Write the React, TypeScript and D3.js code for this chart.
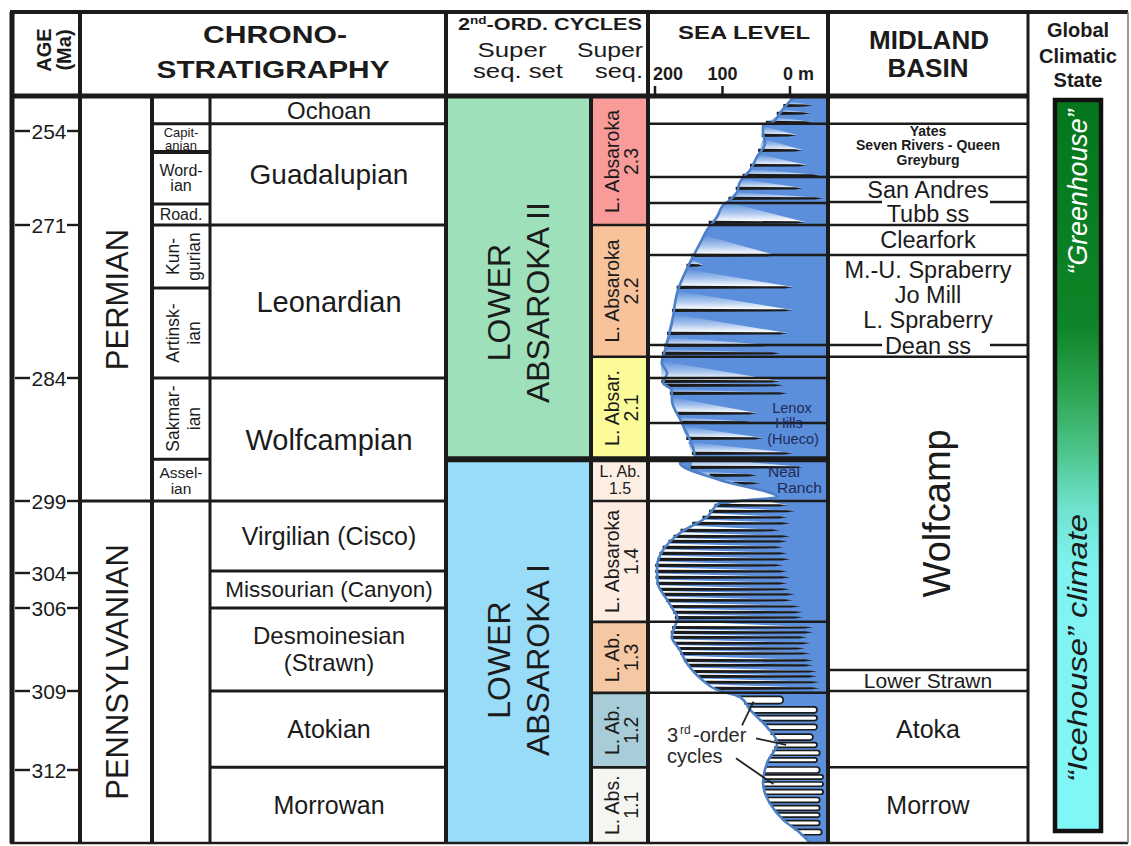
import React from 'react';
import * as d3 from 'd3';

type Unit = { name: string; top: number; base: number };
type Pt = [number, number];

// ---------- Age axis (Ma) ----------
const ageStops = [248, 254, 271, 284, 299, 304, 306, 309, 312, 315];
const ageTicks = [254, 271, 284, 299, 304, 306, 309, 312];

// ---------- Chronostratigraphy ----------
const periods: Unit[] = [
  { name: 'PERMIAN', top: 248, base: 299 },
  { name: 'PENNSYLVANIAN', top: 299, base: 315 },
];

const stages: Unit[] = [
  { name: '', top: 248, base: 252.7 },
  { name: 'Capit-|anian', top: 252.7, base: 257.8 },
  { name: 'Word-|ian', top: 257.8, base: 267.2 },
  { name: 'Road.', top: 267.2, base: 271 },
  { name: 'Kun-|gurian', top: 271, base: 276.35 },
  { name: 'Artinsk-|ian', top: 276.35, base: 284 },
  { name: 'Sakmar-|ian', top: 284, base: 293.9 },
  { name: 'Assel-|ian', top: 293.9, base: 299 },
  { name: '', top: 299, base: 315 },
];

const series: Unit[] = [
  { name: 'Ochoan', top: 248, base: 252.7 },
  { name: 'Guadalupian', top: 252.7, base: 271 },
  { name: 'Leonardian', top: 271, base: 284 },
  { name: 'Wolfcampian', top: 284, base: 299 },
  { name: 'Virgilian (Cisco)', top: 299, base: 303.86 },
  { name: 'Missourian (Canyon)', top: 303.86, base: 306 },
  { name: 'Desmoinesian|(Strawn)', top: 306, base: 309 },
  { name: 'Atokian', top: 309, base: 311.9 },
  { name: 'Morrowan', top: 311.9, base: 315 },
];

// ---------- 2nd-order cycles ----------
const superSeqSets: Unit[] = [
  { name: 'LOWER|ABSAROKA II', top: 248, base: 293.9 },
  { name: 'LOWER|ABSAROKA I', top: 293.9, base: 315 },
];
const superSeqSetColors = ['#9de0b9', '#99dcf7'];

const superSeqs: Unit[] = [
  { name: 'L. Absaroka|2.3', top: 248, base: 271 },
  { name: 'L. Absaroka|2.2', top: 271, base: 282.2 },
  { name: 'L. Absar.|2.1', top: 282.2, base: 293.9 },
  { name: 'L. Ab.|1.5', top: 293.9, base: 299 },
  { name: 'L. Absaroka|1.4', top: 299, base: 306.5 },
  { name: 'L. Ab.|1.3', top: 306.5, base: 309.07 },
  { name: 'L. Ab.|1.2', top: 309.07, base: 311.9 },
  { name: 'L. Abs.|1.1', top: 311.9, base: 315 },
];
const superSeqColors = ['#f99b99', '#f8c29a', '#fbfb99', '#fdeee4', '#fdece2', '#f6c7a3', '#a9cdd8', '#f5f5f1'];

// ---------- Midland Basin units ----------
const midlandUnits: Unit[] = [
  { name: '', top: 248, base: 252.7 },
  { name: 'Yates|Seven Rivers - Queen|Greyburg', top: 252.7, base: 262.3 },
  { name: 'San Andres', top: 262.3, base: 266.85 },
  { name: 'Tubb ss', top: 266.85, base: 271 },
  { name: 'Clearfork', top: 271, base: 273.55 },
  { name: 'M.-U. Spraberry|Jo Mill|L. Spraberry', top: 273.55, base: 281.2 },
  { name: 'Dean ss', top: 281.2, base: 282.2 },
  { name: 'Wolfcamp', top: 282.2, base: 308.24 },
  { name: 'Lower Strawn', top: 308.24, base: 309 },
  { name: 'Atoka', top: 309, base: 311.9 },
  { name: 'Morrow', top: 311.9, base: 315 },
];
const sandMarkers = ['Tubb ss', 'Dean ss'];

// ---------- Sea level ----------
const seaLevelTicks = [200, 100, 0];
const seaLevelCorrelations = [252.7, 262.3, 267, 271, 273.55, 281.2, 282.2, 284, 289.5, 299, 306.5, 309.07];

// long-term envelope: [age Ma, sea level m]
const longTermSeaLevel: Pt[] = [
  [248, -4], [250.74, 15], [252.37, 25], [252.9, 40], [254.36, 40], [256.17, 37],
  [258.7, 49], [261.05, 59], [263.2, 74], [265.2, 79], [266.5, 89], [267.4, 99],
  [269.55, 108], [271.42, 123], [272.53, 133], [273.72, 144], [276.52, 166],
  [279.33, 175], [281.62, 185], [282.72, 190], [283.58, 182], [284.61, 188],
  [285.46, 175], [286.68, 175], [289.49, 160], [293.63, 141], [294.37, 163],
  [296.44, 104], [298.51, 19], [299.14, 104], [300.11, 123], [301.22, 163],
  [302.4, 188], [303.58, 197], [304.57, 196], [305.54, 182], [306.07, 173],
  [306.33, 167], [307.05, 175], [307.52, 163], [307.99, 153], [308.6, 130],
  [308.96, 108], [309.23, 74], [309.72, 59], [310.37, 34], [310.97, 19],
  [311.73, 34], [312.53, 40], [313.36, 30], [314.05, 10], [314.59, -15], [315, -30],
];

// 3rd-order cycles: [age of lowstand Ma, sea level at lowstand m]
const cyclesLA23: Pt[] = [
  [249.3, -34], [250.74, -30], [252.37, -34], [254.72, -10], [257.44, -19],
  [260.15, -25], [261.96, -44], [264.31, -19], [266.12, -49], [270.46, -22],
];
const cyclesLA22: Pt[] = [
  [273.55, 22], [274.4, 129], [276.27, -4], [278.22, -4], [280.18, 4], [281.2, 30], [281.88, 15],
];
const cyclesLA21: Pt[] = [
  [284.37, 15], [284.85, 10], [285.83, 4], [288.27, 49], [289.37, 55], [291.32, 40], [293.15, -4],
];
const cyclesLA15: Pt[] = [[294.85, -19], [295.83, 49], [296.8, 44]];
const cyclesLA14: Pt[] = [
  [299.28, 4], [299.69, -7], [300.11, 4], [300.53, 0], [301.01, 15], [301.43, 0],
  [301.78, 4], [302.19, 10], [302.61, 4], [303.03, 0], [303.44, 10], [303.86, 4],
  [304.23, 0], [304.57, 4], [304.91, 0], [305.2, -7], [305.54, -4], [305.89, -15],
  [306.14, -19], [306.33, -19],
];
const cyclesLA13: Pt[] = [
  [306.69, -34], [306.87, -34], [307.05, -25], [307.26, -30], [307.45, -22], [307.63, -30],
  [307.88, -34], [308.06, -34], [308.28, -40], [308.46, -40], [308.67, -44], [308.89, -44],
];
const cyclesLA12: Pt[] = [
  [309.34, 10], [309.72, -40], [310.03, -40], [310.37, -40], [310.75, -34],
  [311.05, -40], [311.35, -44], [311.62, -40],
];
const cyclesLA11: Pt[] = [
  [312.0, -44], [312.29, -49], [312.58, -49], [312.9, -49], [313.23, -44],
  [313.56, -44], [313.85, -44], [314.18, -44], [314.55, -47],
];

// ---------- Drawing ----------
const W = 1131;
const H = 846;
const FONT = '"Liberation Sans", Arial, Helvetica, sans-serif';
const INK = '#1b1b1b';
const SEA_BLUE = '#5b8edb';
const ENV_BLUE = '#4d80c6';

const X = {
  left: 12, age: 80, period: 152, stage: 210, series: 446, ssSet: 591,
  ss: 648, sea: 828, midland: 1028, right: 1128,
};
const TOP = 12;
const HEAD = 96;
const BOTTOM = 843;

const clamp = (v: number, a: number, b: number) => Math.max(a, Math.min(b, v));

type LabelProps = {
  x: number; y: number; text: string; size: number; weight?: number;
  rotate?: boolean; lh?: number; fill?: string; italic?: boolean;
  anchor?: 'start' | 'middle' | 'end'; len?: number;
};

function Label({ x, y, text, size, weight = 400, rotate = false, lh, fill = INK, italic = false, anchor = 'middle', len }: LabelProps) {
  const lines = text.split('|');
  const step = lh ?? size * 1.1;
  const off = -((lines.length - 1) * step) / 2 + size * 0.35;
  if (lines.length === 1) {
    return (
      <text
        transform={`translate(${x},${y})${rotate ? ' rotate(-90)' : ''}`}
        y={off} fontSize={size} fontWeight={weight} fontStyle={italic ? 'italic' : 'normal'}
        fill={fill} textAnchor={anchor} fontFamily={FONT}
        textLength={len} lengthAdjust={len ? 'spacingAndGlyphs' : undefined}
      >
        {text}
      </text>
    );
  }
  return (
    <text
      transform={`translate(${x},${y})${rotate ? ' rotate(-90)' : ''}`}
      fontSize={size} fontWeight={weight} fontStyle={italic ? 'italic' : 'normal'}
      fill={fill} textAnchor={anchor} fontFamily={FONT}
    >
      {lines.map((l, i) => (
        <tspan key={i} x={0} y={off + i * step}>{l}</tspan>
      ))}
    </text>
  );
}

export default function App() {
  const yAge = d3.scaleLinear().domain(ageStops).range([98, 131, 225, 378, 501, 573, 608, 691, 770, 843]);
  const xSea = d3.scaleLinear().domain([200, 0]).range([655, 790]);
  const mid = (u: Unit) => (yAge(u.top) + yAge(u.base)) / 2;
  const hgt = (u: Unit) => yAge(u.base) - yAge(u.top);

  // long-term curve
  const envLevel = d3.scaleLinear()
    .domain(longTermSeaLevel.map(d => d[0]))
    .range(longTermSeaLevel.map(d => d[1]));
  const envX = (py: number) => xSea(envLevel(yAge.invert(py)));
  const seaArea = d3.area<Pt>()
    .y(d => yAge(d[0])).x0(d => xSea(d[1])).x1(X.sea)
    .curve(d3.curveMonotoneY)(longTermSeaLevel) || '';
  const seaLine = d3.line<Pt>()
    .x(d => xSea(d[1])).y(d => yAge(d[0]))
    .curve(d3.curveMonotoneY)(longTermSeaLevel) || '';

  // 3rd-order cycle wedges
  const groups: { data: Pt[]; kind: string }[] = [
    { data: cyclesLA23, kind: 'spike' },
    { data: cyclesLA22, kind: 'spike' },
    { data: cyclesLA21, kind: 'spike' },
    { data: cyclesLA15, kind: 'spike' },
    { data: cyclesLA14, kind: 'dense' },
    { data: cyclesLA13, kind: 'dense' },
    { data: cyclesLA12, kind: 'finger' },
    { data: cyclesLA11, kind: 'finger' },
  ];
  const cycles = groups
    .flatMap(g => g.data.map(([age, lvl]) => ({ age, lvl, kind: g.kind })))
    .sort((a, b) => a.age - b.age);
  const poly = d3.line();
  const wedges: React.ReactNode[] = [];
  const slivers: React.ReactNode[] = [];
  cycles.forEach((c, i) => {
    const yt = yAge(c.age);
    const xt = xSea(c.lvl);
    const gap = i > 0 ? yt - yAge(cycles[i - 1].age) : 8;
    if (c.kind === 'finger') {
      const h = clamp(gap * 0.3, 1.8, 4);
      const x0 = envX(yt - h) - 1;
      const x1 = envX(yt + h) - 1;
      const p = d3.path();
      p.moveTo(x0, yt - h);
      p.lineTo(xt - h, yt - h);
      p.arc(xt - h, yt, h, -Math.PI / 2, Math.PI / 2);
      p.lineTo(x1, yt + h);
      wedges.push(
        <path key={`f${i}`} d={p.toString()} fill="#fff" stroke={INK} strokeWidth={1.7} strokeLinejoin="round" />
      );
    } else {
      const hTop = c.kind === 'dense' ? clamp(gap * 0.6, 1.5, 6) : clamp(gap - 4, 3, 20);
      const yTop = Math.max(99, yt - hTop);
      const ax = envX(yTop) - 1;
      const cx = envX(yt + 1.5) - 2;
      const tri = poly([[ax, yTop], [xt, yt], [cx, yt + 1.5]] as [number, number][]) + 'Z';
      wedges.push(
        <path key={`w${i}`} d={tri} fill={c.kind === 'dense' ? '#fff' : 'url(#wedgeFade)'} />
      );
      const len = Math.min(8, (xt - cx) * 0.3);
      const s = poly([
        [cx, yt - 1.2], [xt - len, yt - 0.7], [xt, yt + 0.2], [xt - len, yt + 1.4], [cx, yt + 2]
      ] as [number, number][]) + 'Z';
      slivers.push(<path key={`s${i}`} d={s} fill={INK} />);
    }
  });

  const hLine = (key: string, yy: number, x1: number, x2: number, w = 2.5, color = INK) => (
    <line key={key} x1={x1} x2={x2} y1={yy} y2={yy} stroke={color} strokeWidth={w} />
  );
  const vLine = (key: string, xx: number, y1: number, y2: number, w = 3, color = INK) => (
    <line key={key} x1={xx} x2={xx} y1={y1} y2={y2} stroke={color} strokeWidth={w} />
  );

  const seriesSize: Record<string, number> = {
    Ochoan: 24, Guadalupian: 28, Leonardian: 29, Wolfcampian: 29,
    'Missourian (Canyon)': 22.5, 'Desmoinesian|(Strawn)': 24,
  };
  const stageStyle: Record<string, [number, number]> = {
    'Capit-|anian': [13, 13.5], 'Word-|ian': [16, 15], 'Road.': [16, 16], 'Assel-|ian': [15.5, 16],
  };

  const noteX = 667;
  const noteY = yAge(310.95);
  const leaders: [number, number, number][] = [[309.4, 75, -17], [311.05, 89, -4], [312.58, 69, 16]];
  const lenoxY = yAge(289.5);
  const nealY = yAge(296);

  return (
    <svg width={W} height={H} style={{ position: 'absolute', left: 0, top: 0, background: '#fff' }} fontFamily={FONT}>
      <defs>
        <linearGradient id="wedgeFade" x1="0" y1="0" x2="0" y2="1">
          <stop offset="0" stopColor={SEA_BLUE} />
          <stop offset="0.5" stopColor="#a9c5ee" />
          <stop offset="0.9" stopColor="#ffffff" />
        </linearGradient>
        <linearGradient id="climate" x1="0" y1="0" x2="0" y2="1">
          <stop offset="0" stopColor="#05761b" />
          <stop offset="0.31" stopColor="#0e8528" />
          <stop offset="0.40" stopColor="#2ea552" />
          <stop offset="0.48" stopColor="#4cc48a" />
          <stop offset="0.56" stopColor="#6fe3cf" />
          <stop offset="0.64" stopColor="#80f3f1" />
          <stop offset="1" stopColor="#80f7f7" />
        </linearGradient>
        <clipPath id="seaClip">
          <rect x={X.ss} y={98} width={X.sea - X.ss} height={BOTTOM - 98} />
        </clipPath>
      </defs>
      <rect x={0} y={0} width={W} height={H} fill="#fff" />

      {/* coloured cycle boxes */}
      {superSeqSets.map((u, i) => (
        <rect key={`sss${i}`} x={X.series} y={yAge(u.top)} width={X.ssSet - X.series} height={hgt(u)} fill={superSeqSetColors[i]} />
      ))}
      {superSeqs.map((u, i) => (
        <rect key={`ss${i}`} x={X.ssSet} y={yAge(u.top)} width={X.ss - X.ssSet} height={hgt(u)} fill={superSeqColors[i]} />
      ))}

      {/* sea-level curve */}
      <g clipPath="url(#seaClip)">
        <path d={seaArea} fill={SEA_BLUE} />
        {wedges}
        {slivers}
        <path d={seaLine} fill="none" stroke={ENV_BLUE} strokeWidth={2.6} />
      </g>

      {/* climate bar */}
      <rect x={1055} y={100} width={46} height={731} fill="url(#climate)" stroke="#111" strokeWidth={4.5} />

      {/* age ticks */}
      {ageTicks.map(t => (
        <g key={`t${t}`}>
          {hLine(`tl${t}`, yAge(t), 15, 30, 2.4)}
          {hLine(`tr${t}`, yAge(t), 67, 79, 2.4)}
          <text x={49} y={yAge(t) + 7.5} fontSize={21} textAnchor="middle" fill={INK} fontFamily={FONT}>{t}</text>
        </g>
      ))}

      {/* chronostratigraphic boundaries */}
      {periods.slice(0, -1).map(u => hLine(`pb${u.base}`, yAge(u.base), X.age, X.period, 3))}
      {stages.slice(0, -1).map(u => hLine(`sb${u.base}`, yAge(u.base), X.period, X.stage, u.base === 257.8 ? 4 : 3))}
      {series.slice(0, -1).map(u => hLine(`rb${u.base}`, yAge(u.base), X.stage, X.series, 3))}
      {superSeqs.slice(0, -1).filter(u => u.base !== 293.9).map(u => hLine(`qb${u.base}`, yAge(u.base), X.ssSet, X.ss, 2.6))}
      {seaLevelCorrelations.map(a => hLine(`cl${a}`, yAge(a), X.ss, X.sea, 2.5))}
      {hLine('setBoundary', yAge(293.9), X.series, X.sea, 6)}

      {/* Midland Basin boundaries */}
      {midlandUnits.slice(1).map(u =>
        sandMarkers.includes(u.name) ? (
          <g key={`mb${u.top}`}>
            {hLine(`ma${u.top}`, yAge(u.top), X.sea, 882, 2.5)}
            {hLine(`mc${u.top}`, yAge(u.top), 990, X.midland, 2.5)}
          </g>
        ) : hLine(`mb${u.top}`, yAge(u.top), X.sea, X.midland, 2.5)
      )}

      {/* frame */}
      {hLine('top', TOP, X.left - 2, X.right, 4)}
      {hLine('head', HEAD, X.left - 2, X.midland, 5)}
      {hLine('bottom', BOTTOM, X.left - 2, X.right, 2.5)}
      {vLine('vl', X.left, TOP, BOTTOM, 5)}
      {vLine('va', X.age, TOP, BOTTOM, 4)}
      {vLine('vp', X.period, HEAD, BOTTOM, 4)}
      {vLine('vs', X.stage, HEAD, BOTTOM, 3)}
      {vLine('vr', X.series, TOP, BOTTOM, 4)}
      {vLine('vq', X.ssSet, HEAD, BOTTOM, 4)}
      {vLine('vss', X.ss, TOP, BOTTOM, 4)}
      {vLine('vsea', X.sea, TOP, BOTTOM, 4)}
      {vLine('vm', X.midland, TOP, BOTTOM, 3)}
      {vLine('vright', X.right, TOP, BOTTOM, 1.5, '#777')}

      {/* sea-level scale ticks */}
      {seaLevelTicks.map(v => vLine(`st${v}`, xSea(v), 86, 96, 2.5))}

      {/* header texts */}
      <Label x={44} y={50} text="AGE" size={20} weight={700} rotate />
      <Label x={64} y={50} text="(Ma)" size={20} weight={700} rotate />
      <Label x={275} y={35} text="CHRONO-" size={23} weight={700} len={144} />
      <Label x={273} y={70} text="STRATIGRAPHY" size={23} weight={700} len={233} />
      <text x={550} y={30} fontSize={16} fontWeight={700} textAnchor="middle" fill={INK} fontFamily={FONT} textLength={184} lengthAdjust="spacingAndGlyphs">
        2<tspan dy={-6} fontSize={10}>nd</tspan><tspan dy={6}>-ORD. CYCLES</tspan>
      </text>
      <Label x={512} y={50} text="Super" size={20} len={69} />
      <Label x={518} y={71} text="seq. set" size={20} len={90} />
      <Label x={643} y={50} text="Super" size={20} anchor="end" len={66} />
      <Label x={643} y={71} text="seq." size={20} anchor="end" len={48} />
      <Label x={744} y={32} text="SEA LEVEL" size={19} weight={700} len={132} />
      {seaLevelTicks.map((v, i) => (
        <text key={`sv${v}`}
          x={i === 0 ? xSea(v) - 2 : i === seaLevelTicks.length - 1 ? xSea(v) - 7 : xSea(v)}
          y={80} fontSize={18} fontWeight={700} fill={INK} fontFamily={FONT}
          textAnchor={i === 0 || i === seaLevelTicks.length - 1 ? 'start' : 'middle'}>
          {i === seaLevelTicks.length - 1 ? `${v} m` : v}
        </text>
      ))}
      <Label x={929} y={40} text="MIDLAND" size={26} weight={700} />
      <Label x={928} y={68} text="BASIN" size={26} weight={700} />
      <Label x={1078} y={30} text="Global" size={20} weight={700} />
      <Label x={1078} y={56} text="Climatic" size={20} weight={700} />
      <Label x={1078} y={80} text="State" size={20} weight={700} />

      {/* chronostratigraphy labels */}
      {periods.map(u => (
        <Label key={u.name} x={117} y={mid(u)} text={u.name} size={31} rotate />
      ))}
      {stages.filter(u => u.name).map(u => {
        const rot = hgt(u) > 55;
        const st = stageStyle[u.name] ?? [17.5, 21];
        return (
          <Label key={u.name} x={rot ? 183 : 181} y={mid(u) + (u.name === 'Capit-|anian' ? 1 : 0)} text={u.name}
            size={st[0]} lh={st[1]} rotate={rot} />
        );
      })}
      {series.map(u => (
        <Label key={u.name} x={329} y={mid(u)} text={u.name} size={seriesSize[u.name] ?? 25} lh={27} />
      ))}

      {/* cycle labels */}
      {superSeqSets.map((u, i) => (
        <Label key={u.name} x={518} y={mid(u) + (i === 0 ? 24 : 9)} text={u.name} size={32} lh={39} rotate />
      ))}
      {superSeqs.map(u => {
        const rot = hgt(u) > 45;
        return (
          <Label key={u.name} x={rot ? 622 : 620} y={mid(u)} text={u.name}
            size={rot ? 19.5 : 16} lh={rot ? 19 : 17} rotate={rot} />
        );
      })}

      {/* Midland Basin labels */}
      {midlandUnits.filter(u => u.name).map(u => {
        const n = u.name.split('|').length;
        if (u.name === 'Wolfcamp') {
          return <Label key={u.name} x={937} y={mid(u)} text={u.name} size={38} rotate />;
        }
        let cy = mid(u);
        if (sandMarkers.includes(u.name)) {
          const h = hgt(u);
          cy = h > 15 ? mid(u) : yAge(u.top) + 1;
        }
        if (n === 3) cy -= 5;
        const bold = u.name.startsWith('Yates');
        const size = bold ? 14 : u.name === 'Lower Strawn' ? 21 : u.name === 'Atoka' || u.name === 'Morrow' ? 25 : 23.5;
        return (
          <Label key={u.name} x={928} y={cy} text={u.name} size={size} weight={bold ? 700 : 400} lh={bold ? 14.5 : 25} />
        );
      })}

      {/* sea-level annotations */}
      <g fill="#1f2b58" fontSize={14.5} fontFamily={FONT} textAnchor="middle">
        <text x={792} y={lenoxY - 10}>Lenox</text>
        <text x={789} y={lenoxY + 5}>Hills</text>
        <text x={793} y={lenoxY + 21}>(Hueco)</text>
      </g>
      <g fill="#1f2b58" fontSize={15.5} fontFamily={FONT}>
        <text x={768} y={nealY + 1}>Neal</text>
        <text x={777} y={nealY + 16.6}>Ranch</text>
      </g>
      <g fill="#2a2a2a" fontFamily={FONT}>
        <text x={noteX} y={noteY} fontSize={20}>3</text>
        <text x={noteX + 13} y={noteY - 8} fontSize={12}>rd</text>
        <text x={noteX + 26} y={noteY} fontSize={20}>-order</text>
        <text x={noteX} y={noteY + 21} fontSize={20}>cycles</text>
      </g>
      {leaders.map(([age, dx, dy], i) => {
        const ty = yAge(age);
        return (
          <line key={`ld${i}`} x1={noteX + dx} y1={noteY + dy} x2={envX(ty) + 10} y2={ty} stroke="#222" strokeWidth={1.8} />
        );
      })}

      {/* climate labels */}
      <Label x={1078} y={192} text="“Greenhouse”" size={27} italic rotate fill="#ffffff" len={165} />
      <Label x={1078} y={648} text="“Icehouse” climate" size={27} italic rotate fill="#1a1a1a" len={268} />
    </svg>
  );
}
